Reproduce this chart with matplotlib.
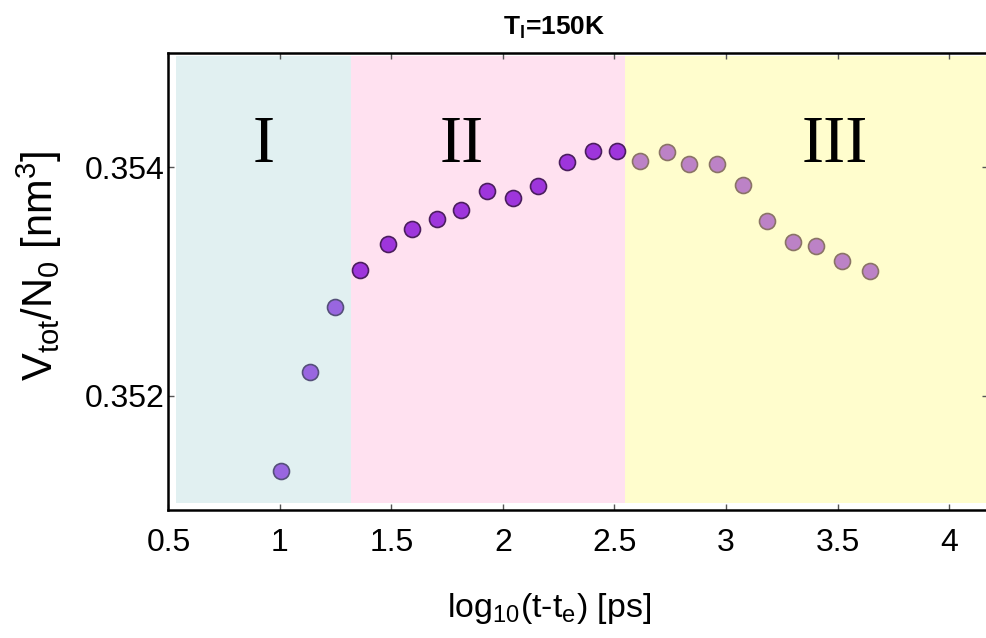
import numpy as np
import matplotlib
matplotlib.use("Agg")
import matplotlib.pyplot as plt

plt.rcParams['font.family'] = ['Liberation Sans', 'DejaVu Sans']
plt.rcParams['mathtext.fontset'] = 'custom'
plt.rcParams['mathtext.rm'] = 'Liberation Sans'
plt.rcParams['mathtext.it'] = 'Liberation Sans'
plt.rcParams['mathtext.bf'] = 'Liberation Sans:bold'

# stage I / II / III points (log10 time, volume per particle)
x1 = [1.003, 1.136, 1.248]
y1 = [0.351342, 0.352206, 0.352780]
x2 = [1.359, 1.483, 1.593, 1.705, 1.812, 1.928, 2.046, 2.157, 2.286, 2.404, 2.510]
y2 = [0.353102, 0.353328, 0.353458, 0.353545, 0.353620, 0.353794, 0.353730,
      0.353837, 0.354043, 0.354142, 0.354142]
x3 = [2.614, 2.734, 2.834, 2.961, 3.078, 3.185, 3.302, 3.402, 3.519, 3.647]
y3 = [0.354055, 0.354130, 0.354023, 0.354023, 0.353841, 0.353528, 0.353342,
      0.353310, 0.353174, 0.353087]

region_edges = [0.535, 1.32, 2.545, 4.25]
region_names = ["I", "II", "III"]
region_label_x = [0.928, 1.816, 3.489]
region_colors = ["#E1F0F1", "#FFE1F0", "#FFFDCD"]

xticks = [0.5, 1, 1.5, 2, 2.5, 3, 3.5, 4]
xticklabels = ["0.5", "1", "1.5", "2", "2.5", "3", "3.5", "4"]
yticks = [0.352, 0.354]
yticklabels = ["0.352", "0.354"]

fig = plt.figure(figsize=(9.87, 6.38), dpi=100)
ax = fig.add_axes([0.1707, 0.2006, 0.8308, 0.7168])

for i in range(3):
    ax.axvspan(region_edges[i], region_edges[i+1], ymin=0.015, ymax=0.9925,
               color=region_colors[i], lw=0, zorder=0)
    ax.text(region_label_x[i], 0.35404, region_names[i], family='Liberation Serif',
            fontsize=48, ha='center', va='baseline', zorder=2)

ax.plot(x1, y1, 'o', ms=11.5, mfc="#9966E0", mec="#55507A", mew=1.2, zorder=3)
ax.plot(x2, y2, 'o', ms=11.5, mfc="#9E35DC", mec="#4B1E5E", mew=1.2, zorder=3)
ax.plot(x3, y3, 'o', ms=11.5, mfc="#BC82C6", mec="#8A7466", mew=1.2, zorder=3)

ax.set_xlim(0.5, 4.177)
ax.set_ylim(0.351, 0.355)
ax.set_xticks(xticks)
ax.set_xticklabels(xticklabels)
ax.set_yticks(yticks)
ax.set_yticklabels(yticklabels)
ax.tick_params(direction='in', length=4, width=1, color='#555555',
               top=True, right=True, labelsize=23)
ax.tick_params(axis='x', pad=13)
ax.tick_params(axis='y', pad=3)
for s in ax.spines.values():
    s.set_linewidth(1.8)
ax.spines['right'].set_visible(False)

ax.set_xlabel(r"log$_{10}$(t-t$_e$) [ps]", fontsize=24.5, va='center')
ax.xaxis.set_label_coords(0.4636, -0.215)
ax.set_ylabel(r"V$_{tot}$/N$_0$ [nm$^3$]", fontsize=30, va='center')
ax.yaxis.set_label_coords(-0.158, 0.5336)

fig.text(554/987, 1 - 28/638, r"T$_\mathbf{l}$=150K", fontsize=19, fontweight='bold',
         family=['Liberation Sans Narrow', 'Liberation Sans'], ha='center', va='center')

fig.savefig("out.png", dpi=100)
